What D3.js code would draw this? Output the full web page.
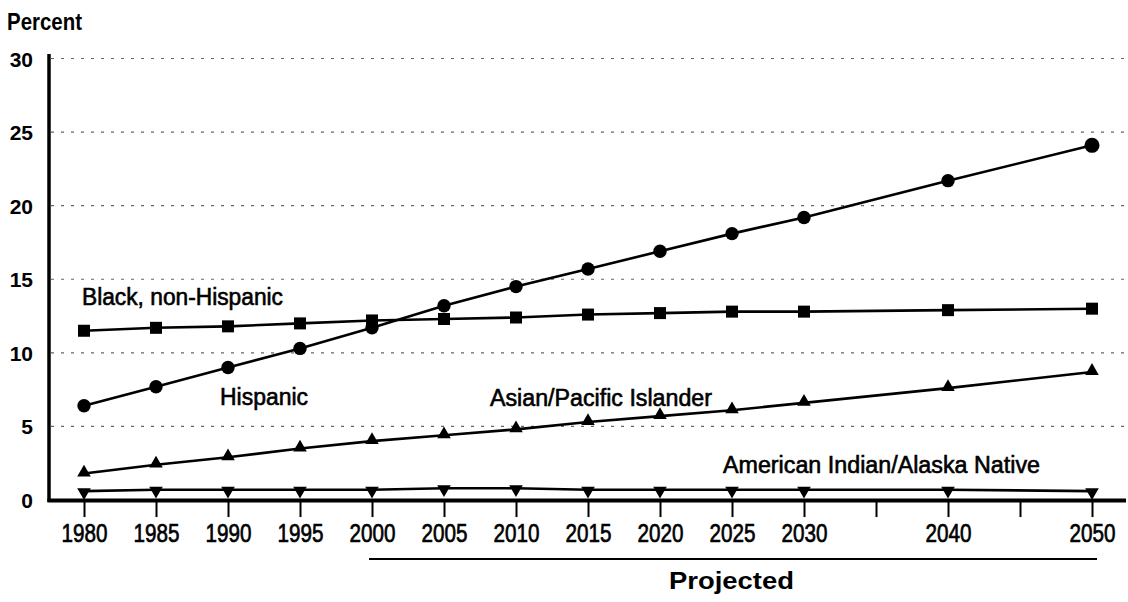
<!DOCTYPE html>
<html>
<head>
<meta charset="utf-8">
<script src="https://cdn.jsdelivr.net/npm/d3@7"></script>
<style>
  html, body { margin: 0; padding: 0; background: #fff; }
  svg { display: block; }
  text { fill: #000; }
</style>
</head>
<body>
<svg id="chart" width="1128" height="602"></svg>
<script>
// ---- data ----
const years = [1980, 1985, 1990, 1995, 2000, 2005, 2010, 2015, 2020, 2025, 2030, 2040, 2050];
const hispanic = [6.4, 7.7, 9.0, 10.3, 11.7, 13.2, 14.5, 15.7, 16.9, 18.1, 19.2, 21.7, 24.1];
const black = [11.5, 11.7, 11.8, 12.0, 12.2, 12.3, 12.4, 12.6, 12.7, 12.8, 12.8, 12.9, 13.0];
const asian = [1.8, 2.4, 2.9, 3.5, 4.0, 4.4, 4.8, 5.3, 5.7, 6.1, 6.6, 7.6, 8.7];
const amind = [0.6, 0.7, 0.7, 0.7, 0.7, 0.8, 0.8, 0.7, 0.7, 0.7, 0.7, 0.7, 0.6];
const xTicks = [1980, 1985, 1990, 1995, 2000, 2005, 2010, 2015, 2020, 2025, 2030, 2035, 2040, 2045, 2050];
const xLabels = [1980, 1985, 1990, 1995, 2000, 2005, 2010, 2015, 2020, 2025, 2030, 2040, 2050];
const yTicks = [0, 5, 10, 15, 20, 25, 30];
const seriesNames = ["Hispanic", "Black, non-Hispanic", "Asian/Pacific Islander", "American Indian/Alaska Native"];
const projectedLabel = "Projected";
const projectedRange = [2000, 2050];

// ---- layout ----
const svg = d3.select("#chart");
const x = d3.scaleLinear().domain([1980, 2050]).range([84, 1092]);
const y = d3.scaleLinear().domain([0, 30]).range([500, 58.5]);
const axisLeftX = 49, axisRightX = 1126;

const font = "'Liberation Sans', Arial, sans-serif";

// gridlines
svg.append("g").selectAll("line").data(yTicks.filter(d => d > 0)).join("line")
  .attr("x1", axisLeftX + 2).attr("x2", 1128)
  .attr("y1", d => y(d)).attr("y2", d => y(d))
  .attr("stroke", "#666").attr("stroke-width", 1.2)
  .attr("stroke-dasharray", "3,7");

// y axis via d3
const yAxis = d3.axisLeft(y).tickValues(yTicks).tickSize(0).tickPadding(0).tickFormat(d3.format("d"));
const gy = svg.append("g").attr("transform", `translate(${axisLeftX},0)`).call(yAxis);
gy.select(".domain").remove();
gy.selectAll("text")
  .attr("x", -16).attr("dy", "0.36em")
  .attr("font-family", font).attr("font-size", 21).attr("font-weight", "bold")
  .attr("fill", "#000");
svg.append("line").attr("x1", axisLeftX).attr("x2", axisLeftX).attr("y1", 54).attr("y2", 502)
  .attr("stroke", "#000").attr("stroke-width", 3.5);

// x axis via d3
const xAxis = d3.axisBottom(x).tickValues(xTicks).tickSize(16).tickPadding(6)
  .tickFormat(d => xLabels.includes(d) ? String(d) : "");
const gx = svg.append("g").attr("transform", `translate(0,${y(0) + 1})`).call(xAxis);
gx.select(".domain").remove();
gx.selectAll(".tick line").attr("stroke", "#000").attr("stroke-width", 2);
gx.selectAll("text")
  .attr("font-family", font).attr("font-size", 26)
  .attr("fill", "#000").attr("dy", "0.74em")
  .attr("stroke", "#000").attr("stroke-width", 0.7)
  .each(function () {
    const t = d3.select(this);
    if (t.text()) t.attr("textLength", 46).attr("lengthAdjust", "spacingAndGlyphs");
  });
svg.append("line").attr("x1", axisLeftX - 1.5).attr("x2", axisRightX).attr("y1", y(0) + 0.5).attr("y2", y(0) + 0.5)
  .attr("stroke", "#000").attr("stroke-width", 4);

// Percent title
svg.append("text").attr("x", 7).attr("y", 30).text("Percent")
  .attr("font-family", font).attr("font-size", 23).attr("font-weight", "bold")
  .attr("textLength", 75).attr("lengthAdjust", "spacingAndGlyphs");

// lines
const line = d3.line().x((d, i) => x(years[i])).y(d => y(d));
[hispanic, black, asian, amind].forEach(s => {
  svg.append("path").datum(s).attr("d", line)
    .attr("fill", "none").attr("stroke", "#000").attr("stroke-width", 2.6);
});

// markers
svg.append("g").selectAll("circle").data(hispanic).join("circle")
  .attr("cx", (d, i) => x(years[i])).attr("cy", d => y(d)).attr("r", (d, i) => i === years.length - 1 ? 7.5 : 6.7)
  .attr("fill", "#000");
svg.append("g").selectAll("rect").data(black).join("rect")
  .attr("x", (d, i) => x(years[i]) - 6).attr("y", d => y(d) - 6)
  .attr("width", 12).attr("height", 12).attr("fill", "#000");
const tri = d3.symbol().type(d3.symbolTriangle).size(80);
svg.append("g").selectAll("path").data(asian).join("path")
  .attr("d", tri).attr("transform", (d, i) => `translate(${x(years[i])},${y(d) - 1})`).attr("fill", "#000");
svg.append("g").selectAll("path").data(amind).join("path")
  .attr("d", tri).attr("transform", (d, i) => `translate(${x(years[i])},${y(d) + 1}) rotate(180)`).attr("fill", "#000");

// series labels
const labels = [
  { t: seriesNames[1], x: 82, y: 305, w: 201 },
  { t: seriesNames[0], x: 220, y: 405, w: 88 },
  { t: seriesNames[2], x: 490, y: 406, w: 222 },
  { t: seriesNames[3], x: 723, y: 473, w: 317 }
];
svg.append("g").selectAll("text").data(labels).join("text")
  .attr("x", d => d.x).attr("y", d => d.y).text(d => d.t)
  .attr("font-family", font).attr("font-size", 23)
  .attr("textLength", d => d.w).attr("lengthAdjust", "spacingAndGlyphs")
  .attr("stroke", "#000").attr("stroke-width", 0.6);

// projected bracket
svg.append("line").attr("x1", x(projectedRange[0]) - 3).attr("x2", x(projectedRange[1]) + 5)
  .attr("y1", 559).attr("y2", 559).attr("stroke", "#000").attr("stroke-width", 2);
svg.append("text").attr("x", 669).attr("y", 589)
  .text(projectedLabel)
  .attr("font-family", font).attr("font-size", 24).attr("font-weight", "bold")
  .attr("textLength", 125).attr("lengthAdjust", "spacingAndGlyphs");
</script>
</body>
</html>
